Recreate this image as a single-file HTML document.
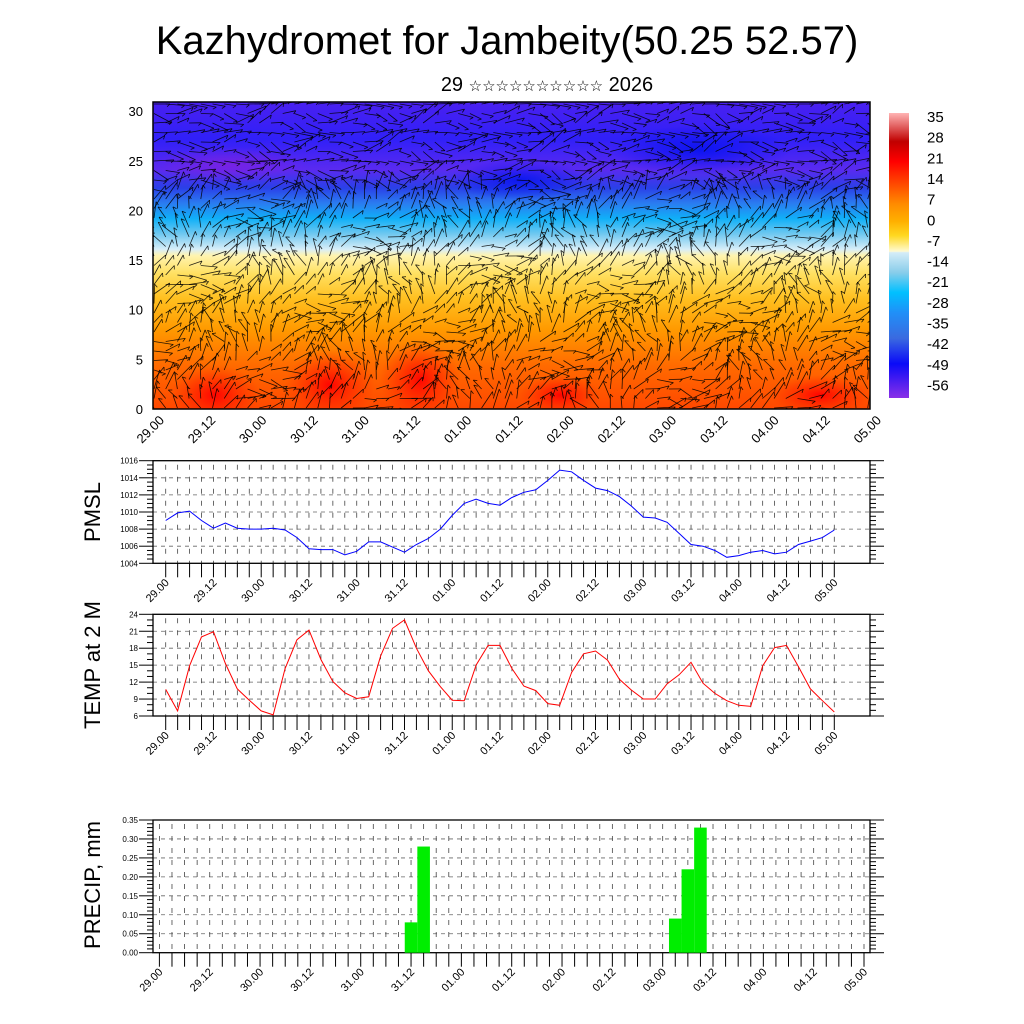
<!DOCTYPE html>
<html><head><meta charset="utf-8">
<style>
html,body{margin:0;padding:0;background:#fff;}
svg{display:block;font-family:"Liberation Sans",sans-serif;}
</style></head>
<body>
<svg id="root" width="1024" height="1024" viewBox="0 0 1024 1024" xmlns="http://www.w3.org/2000/svg">
<defs>
<linearGradient id="fieldGrad" x1="0" y1="0" x2="0" y2="1">
<stop offset="0" stop-color="#4a20f0"/>
<stop offset="0.12" stop-color="#3020f8"/>
<stop offset="0.22" stop-color="#5a2af0"/>
<stop offset="0.28" stop-color="#2a40e8"/>
<stop offset="0.33" stop-color="#2a7cf0"/>
<stop offset="0.38" stop-color="#10b0f8"/>
<stop offset="0.43" stop-color="#70c8f0"/>
<stop offset="0.48" stop-color="#d8eef8"/>
<stop offset="0.5" stop-color="#fff4b0"/>
<stop offset="0.56" stop-color="#ffe060"/>
<stop offset="0.64" stop-color="#ffc020"/>
<stop offset="0.74" stop-color="#ff9a00"/>
<stop offset="0.86" stop-color="#ff6a00"/>
<stop offset="1" stop-color="#ff4800"/>
</linearGradient>
<radialGradient id="redBlob"><stop offset="0" stop-color="#ff0000" stop-opacity="0.95"/><stop offset="1" stop-color="#ff2000" stop-opacity="0"/></radialGradient>
<radialGradient id="purpleBlob"><stop offset="0" stop-color="#8020e0" stop-opacity="0.8"/><stop offset="1" stop-color="#8020e0" stop-opacity="0"/></radialGradient>
<radialGradient id="blueBlob"><stop offset="0" stop-color="#0010f0" stop-opacity="0.8"/><stop offset="1" stop-color="#0010f0" stop-opacity="0"/></radialGradient>
<linearGradient id="cbGrad" x1="0" y1="0" x2="0" y2="1">
<stop offset="0" stop-color="#ffb4b4"/>
<stop offset="0.1" stop-color="#c00000"/>
<stop offset="0.17" stop-color="#ff0000"/>
<stop offset="0.25" stop-color="#ff4a00"/>
<stop offset="0.32" stop-color="#ff8c00"/>
<stop offset="0.38" stop-color="#ffb000"/>
<stop offset="0.43" stop-color="#ffd820"/>
<stop offset="0.485" stop-color="#fffad0"/>
<stop offset="0.49" stop-color="#d4ecf8"/>
<stop offset="0.56" stop-color="#88cdea"/>
<stop offset="0.63" stop-color="#00c0ff"/>
<stop offset="0.7" stop-color="#2090f8"/>
<stop offset="0.79" stop-color="#3a6ae0"/>
<stop offset="0.88" stop-color="#0a0af8"/>
<stop offset="1" stop-color="#8a30e8"/>
</linearGradient>
<clipPath id="fieldClip"><rect x="153" y="102" width="717" height="307"/></clipPath>
</defs>
<text x="507" y="54" font-size="40" text-anchor="middle">Kazhydromet for Jambeity(50.25 52.57)</text>
<text x="547" y="91" font-size="20" text-anchor="middle">29 <tspan font-size="15">☆☆☆☆☆☆☆☆☆☆</tspan> 2026</text>
<g id="field"></g>
<g id="colorbar"></g>
<g id="pmsl"></g>
<g id="temp"></g>
<g id="precip"></g>
</svg>
<script>
// ---- data ----
const timeLabels = ["29.00","29.12","30.00","30.12","31.00","31.12","01.00","01.12","02.00","02.12","03.00","03.12","04.00","04.12","05.00"];
const pmslValues = [1009.0,1009.9,1010.1,1009.0,1008.1,1008.7,1008.1,1008.0,1008.0,1008.1,1007.9,1007.0,1005.7,1005.6,1005.6,1005.0,1005.4,1006.5,1006.5,1005.9,1005.3,1006.2,1006.9,1008.0,1009.6,1011.0,1011.5,1011.0,1010.8,1011.7,1012.3,1012.6,1013.7,1014.9,1014.7,1013.7,1012.8,1012.5,1011.8,1010.7,1009.4,1009.3,1008.8,1007.5,1006.2,1006.0,1005.5,1004.7,1004.9,1005.3,1005.5,1005.1,1005.3,1006.2,1006.6,1007.0,1007.9];
const tempValues = [10.7,6.9,14.9,20.0,20.9,15.3,10.8,8.8,6.9,6.2,14.4,19.5,21.2,16.0,12.1,10.1,9.1,9.4,16.6,21.5,23.0,18.0,14.0,11.2,8.8,8.7,15.0,18.5,18.5,14.4,11.3,10.5,8.2,7.9,13.7,17.0,17.5,15.9,12.5,10.6,9.0,9.0,11.7,13.3,15.5,11.8,10.0,8.7,7.9,7.7,14.9,18.1,18.5,14.7,10.8,8.7,6.7];
const precipIndex = [20,21,41,42,43];
const precipValues = [0.08,0.28,0.09,0.22,0.33];
const pmslTicks = [1004,1006,1008,1010,1012,1014,1016];
const tempTicks = [6,9,12,15,18,21,24];
const precipTicks = [0,0.05,0.10,0.15,0.20,0.25,0.30,0.35];
const fieldTicks = [0,5,10,15,20,25,30];
const colorbarLabels = ["35","28","21","14","7","0","-7","-14","-21","-28","-35","-42","-49","-56"];

const NS="http://www.w3.org/2000/svg";
function mk(tag, attrs, parent){const e=document.createElementNS(NS,tag);for(const k in attrs)e.setAttribute(k,attrs[k]);if(parent)parent.appendChild(e);return e;}

// ---- cross-section field ----
const F=document.getElementById('field');
const fr=mk('rect',{x:153,y:102,width:717,height:307,fill:'url(#fieldGrad)'},F);


const blobs=mk('g',{'clip-path':'url(#fieldClip)'},F);
[[215,395,45,30,'redBlob'],[330,385,45,35,'redBlob'],[420,380,40,40,'redBlob'],[560,395,40,20,'redBlob'],[820,395,50,20,'redBlob'],[230,165,80,18,'purpleBlob'],[520,180,70,20,'blueBlob'],[700,150,90,25,'blueBlob']].forEach(b=>{
  mk('ellipse',{cx:b[0],cy:b[1],rx:b[2],ry:b[3],fill:'url(#'+b[4]+')'},blobs);
});
const vec=mk('g',{'clip-path':'url(#fieldClip)',stroke:'#000','stroke-width':'0.8','stroke-opacity':'0.85'},F);


for(let i=0;i<62;i++){for(let j=0;j<33;j++){
  const x=154+i*11.7, y=104+j*9.5;
  let a=-1.0+0.7*Math.sin(i*0.53+j*0.31)+0.6*Math.cos(j*0.7-i*0.19)+0.4*Math.sin(i*1.7+j*2.3);
  if(j<9) a=0.2*Math.sin(i*0.4+j)+ (j%3===0?0:0.6*Math.cos(i*0.9+j));
  const L=16+4*Math.sin(i*0.8+j*1.3);
  const x2=x+L*Math.cos(a), y2=y+L*Math.sin(a);
  mk('line',{x1:x.toFixed(1),y1:y.toFixed(1),x2:x2.toFixed(1),y2:y2.toFixed(1)},vec);
  mk('line',{x1:x2.toFixed(1),y1:y2.toFixed(1),x2:(x2+4*Math.cos(a+2.4)).toFixed(1),y2:(y2+4*Math.sin(a+2.4)).toFixed(1)},vec);
}}
mk('rect',{x:153,y:102,width:717,height:307,fill:'none',stroke:'#000','stroke-width':1.5},F);
const fy=v=>409-v*9.93;
fieldTicks.forEach(v=>{
  const t=mk('text',{x:143,y:fy(v)+5,'font-size':13,'text-anchor':'end'},F);t.textContent=v;
  
  
});
timeLabels.forEach((s,k)=>{
  const x=153+k*717/14;
  const t=mk('text',{x:x+12,y:421,'font-size':13,'text-anchor':'end',transform:`rotate(-45 ${x+12} 421)`},F);t.textContent=s;
  
  
});

// ---- colorbar ----
const C=document.getElementById('colorbar');
const cbr=mk('rect',{x:889,y:113,width:20,height:285,fill:'url(#cbGrad)'},C);


colorbarLabels.forEach((s,k)=>{
  const t=mk('text',{x:927,y:122+k*20.65,'font-size':15},C);t.textContent=s;
  
  
});

// ---- generic line panel ----
function panel(g, opts){
  const {x0,x1,top,bot,px0,px1,n,ymin,ymax,ticks,fmt,minorStep,ylabel,labelY,labFont}=opts;
  const X=i=>px0+i*(px1-px0)/(n-1);
  const Y=v=>bot-(v-ymin)/(ymax-ymin)*(bot-top);
  const grid=mk('g',{stroke:'#666','stroke-width':0.8,'stroke-dasharray':'4 4'},g);
  
  
  ticks.forEach(v=>{ if(v>ymin&&v<ymax) mk('line',{x1:x0,x2:x1,y1:Y(v),y2:Y(v)},grid); });
  const vg=mk('g',{stroke:'#444','stroke-width':0.8,'stroke-dasharray':'5 7'},g);
  for(let i=0;i<n;i++) mk('line',{x1:X(i),x2:X(i),y1:top+4,y2:bot},vg);
  const tk=mk('g',{stroke:'#000','stroke-width':1},g);
  for(let v=ymin;v<=ymax+1e-9;v+=minorStep){
    const major=ticks.some(t=>Math.abs(t-v)<1e-6);
    const L=major?14:6;
    mk('line',{x1:x0-L,x2:x0,y1:Y(v),y2:Y(v)},tk);
    mk('line',{x1:x1,x2:x1+L,y1:Y(v),y2:Y(v)},tk);
  }
  for(let i=0;i<n;i++) mk('line',{x1:X(i),x2:X(i),y1:bot,y2:bot+14},tk);
  mk('rect',{x:x0,y:top,width:x1-x0,height:bot-top,fill:'none',stroke:'#000','stroke-width':1.3},g);
  ticks.forEach(v=>{
    const t=mk('text',{x:x0-15,y:Y(v)+3,'font-size':8,'text-anchor':'end'},g);t.textContent=fmt(v);
    
    
  });
  timeLabels.forEach((s,k)=>{
    const x=X(k*4)+4, y=bot+20;
    const t=mk('text',{x:x,y:y,'font-size':labFont,'text-anchor':'end',transform:`rotate(-45 ${x} ${y})`},g);t.textContent=s;
    
    
  });
  const yl=mk('text',{x:0,y:0,'font-size':22,'text-anchor':'middle',transform:`translate(100 ${labelY}) rotate(-90)`},g);yl.textContent=ylabel;
  
  
  return {X,Y};
}

const P=document.getElementById('pmsl');
const pa=panel(P,{x0:153,x1:870,top:460.7,bot:563.3,px0:165.7,px1:834.3,n:57,ymin:1004,ymax:1016,ticks:pmslTicks,fmt:v=>String(v),minorStep:0.5,ylabel:'PMSL',labelY:512,labFont:11});
const pl=mk('polyline',{points:pmslValues.map((v,i)=>pa.X(i).toFixed(1)+','+pa.Y(v).toFixed(1)).join(' '),fill:'none',stroke:'#0000ff','stroke-width':1},P);



const T=document.getElementById('temp');
const ta=panel(T,{x0:153,x1:870,top:614.3,bot:716,px0:165.7,px1:834.3,n:57,ymin:6,ymax:24,ticks:tempTicks,fmt:v=>String(v),minorStep:1,ylabel:'TEMP at 2 M',labelY:665,labFont:11});
const tl=mk('polyline',{points:tempValues.map((v,i)=>ta.X(i).toFixed(1)+','+ta.Y(v).toFixed(1)).join(' '),fill:'none',stroke:'#ff0000','stroke-width':1},T);



const R=document.getElementById('precip');
const ra=panel(R,{x0:153,x1:870,top:820,bot:952.7,px0:159.4,px1:864,n:57,ymin:0,ymax:0.35,ticks:precipTicks,fmt:v=>v.toFixed(2),minorStep:0.01,ylabel:'PRECIP, mm',labelY:885,labFont:11});
const bw=(864-159.4)/56;
precipValues.forEach((v,k)=>{
  const b=mk('rect',{x:ra.X(precipIndex[k])-bw/2,y:ra.Y(v),width:bw,height:ra.Y(0)-ra.Y(v),fill:'#00ee00'},R);
  
  
});
</script>
</body></html>
